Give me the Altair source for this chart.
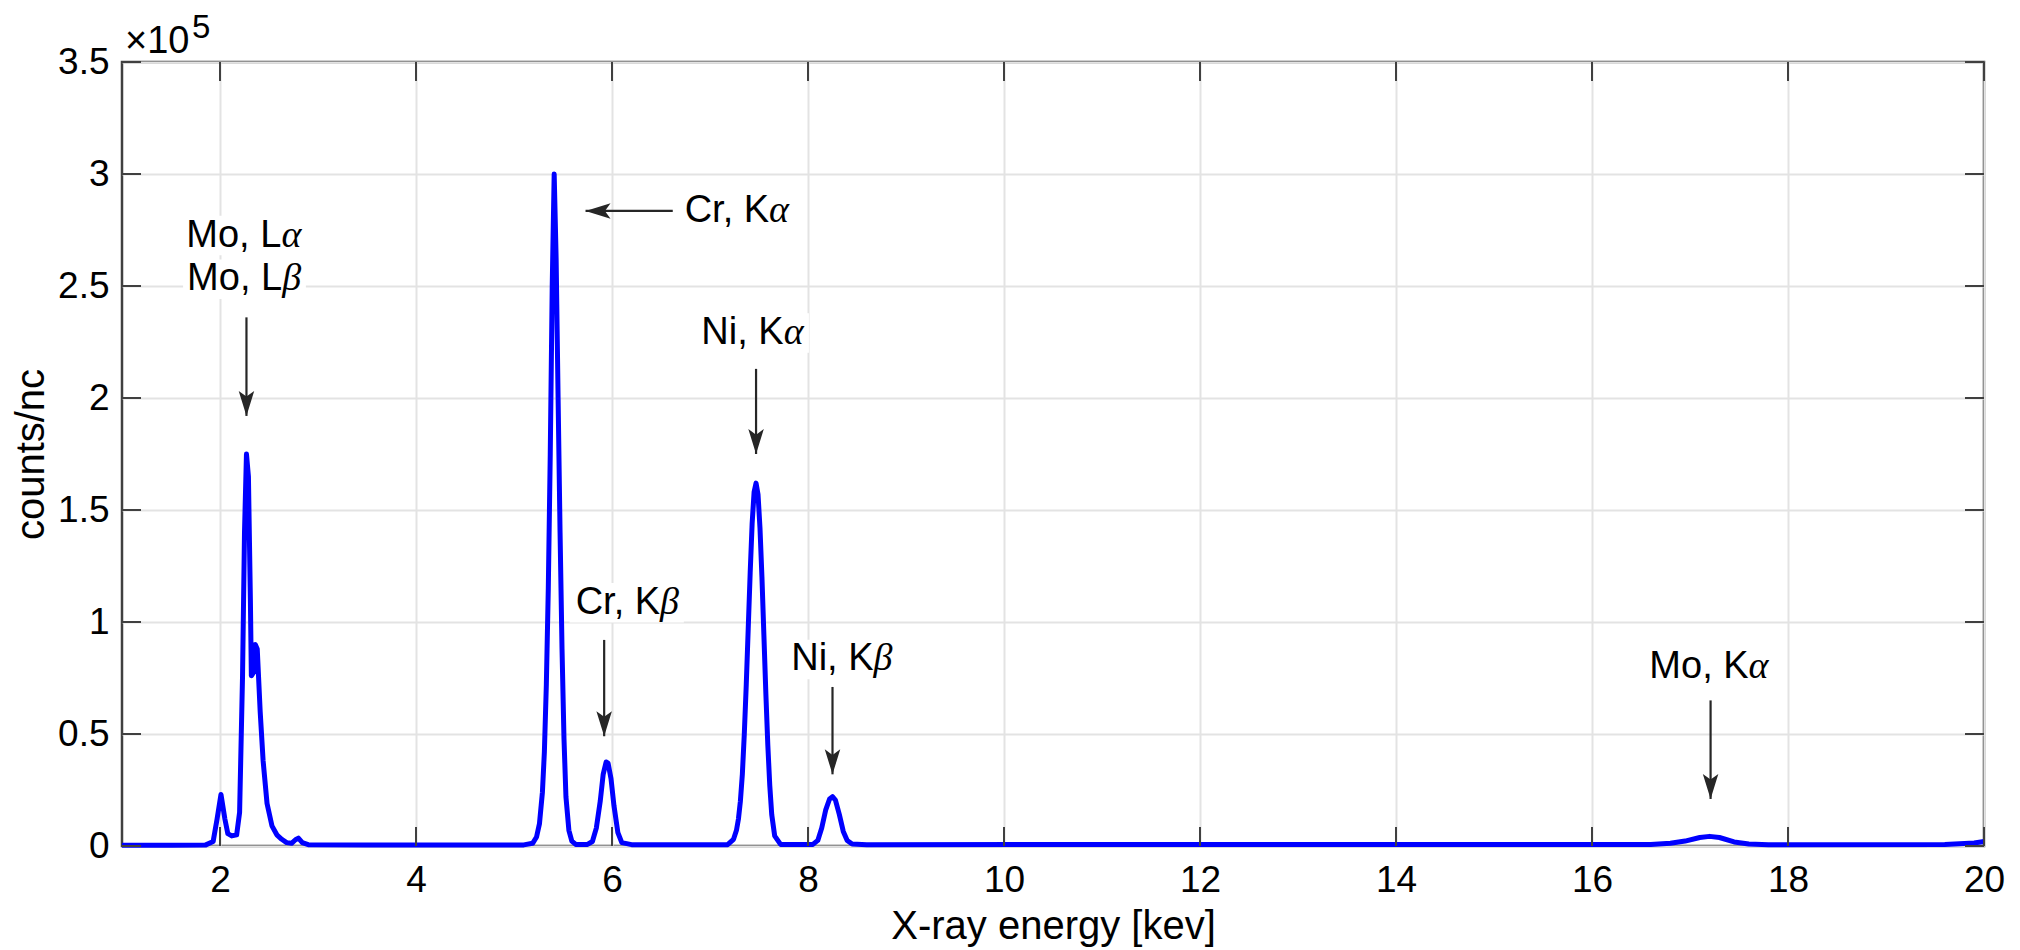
import altair as alt
import pandas as pd

# ---------------- spectrum ----------------
energy_kev = [1.0, 1.5, 1.85, 1.93, 1.97, 2.01, 2.05, 2.08, 2.12, 2.17, 2.20, 2.23, 2.25, 2.27,
              2.29, 2.31, 2.32, 2.35, 2.36, 2.38, 2.41, 2.44, 2.48, 2.53, 2.58, 2.63, 2.68, 2.73,
              2.77, 2.80, 2.84, 2.90, 3.5, 5.10, 5.19, 5.23, 5.26, 5.29, 5.31, 5.33, 5.35, 5.37,
              5.39, 5.41, 5.43, 5.45, 5.47, 5.49, 5.51, 5.53, 5.56, 5.59, 5.63, 5.75, 5.80, 5.84,
              5.88, 5.91, 5.94, 5.96, 5.99, 6.02, 6.06, 6.10, 6.20, 7.18, 7.24, 7.27, 7.29, 7.31,
              7.33, 7.35, 7.37, 7.39, 7.41, 7.43, 7.45, 7.47, 7.49, 7.51, 7.53, 7.55, 7.57, 7.59,
              7.61, 7.63, 7.66, 7.72, 8.05, 8.10, 8.14, 8.18, 8.22, 8.25, 8.28, 8.32, 8.36, 8.40,
              8.45, 8.60, 16.6, 16.8, 16.95, 17.1, 17.2, 17.3, 17.45, 17.6, 17.8, 19.6, 19.9, 20.0]
counts = [300, 300, 400, 2000, 12000, 23000, 12000, 5500, 4500, 5000, 15000, 76000, 140000, 175000,
          165000, 110000, 76000, 78000, 90000, 88000, 60000, 38000, 19000, 9000, 5000, 3000, 1500, 1200,
          2800, 3500, 1500, 600, 400, 500, 1200, 4000, 10000, 24000, 42000, 72000, 115000, 175000,
          250000, 300000, 262000, 200000, 140000, 88000, 48000, 22000, 7000, 2200, 700, 700, 2000, 8000,
          20000, 32000, 37500, 37000, 30000, 18000, 6000, 1500, 600, 600, 3000, 7000, 12000, 20000,
          32000, 50000, 72000, 97000, 122000, 144000, 158000, 162000, 157000, 142000, 120000, 94000, 68000, 45000,
          27000, 14000, 4500, 700, 700, 2500, 8000, 16000, 21000, 22000, 20500, 14000, 6500, 2500,
          900, 600, 700, 1200, 2200, 3800, 4300, 3800, 1800, 900, 600, 700, 1300, 2000]

x_ticks = [2, 4, 6, 8, 10, 12, 14, 16, 18, 20]
y_ticks = [0, 50000, 100000, 150000, 200000, 250000, 300000, 350000]

# ---------------- annotations ----------------
label_prefix = ["Mo, L", "Mo, L", "Cr, K", "Cr, K", "Ni, K", "Ni, K", "Mo, K"]
label_greek = ["\u03b1", "\u03b2", "\u03b1", "\u03b2", "\u03b1", "\u03b2", "\u03b1"]
label_x = [2.25, 2.25, 6.72, 6.15, 7.44, 8.35, 17.2]          # centre (or left edge for Cr Ka)
label_y = [272500, 253000, 283500, 108600, 229000, 83300, 80000]
label_align = ["center", "center", "left", "center", "center", "center", "center"]
prefix_em = [2.501, 2.501, 2.278, 2.278, 2.167, 2.167, 2.612]
greek_em = [0.56, 0.52, 0.56, 0.52, 0.56, 0.52, 0.56]

arrow_x = [2.27, 5.92, 7.47, 8.25, 17.21]
arrow_tail = [236000, 92000, 213000, 71000, 65000]
arrow_tip = [192000, 49000, 175000, 32000, 21000]

harrow_y = [283500]
harrow_tail = [6.62]
harrow_tip = [5.73]

# ---------------- layout ----------------
W, H = 1862, 784
X_MIN, X_MAX = 1, 20
Y_MAX = 350000
PX_PER_KEV = W / (X_MAX - X_MIN)
COUNTS_PER_PX = Y_MAX / H
ANN_FS = 38
FONT = "Liberation Sans, Arial, Helvetica, sans-serif"
INK = "#262626"

spec = pd.DataFrame({"energy": energy_kev, "counts": counts})

# split points between the roman prefix and the italic greek letter, plus text boxes
split_x, box_l, box_r, box_b, box_t = [], [], [], [], []
for cx, cy, al, pe, ge in zip(label_x, label_y, label_align, prefix_em, greek_em):
    wp = pe * ANN_FS / PX_PER_KEV
    wg = ge * ANN_FS / PX_PER_KEV
    left = cx if al == "left" else cx - (wp + wg) / 2
    split_x.append(left + wp)
    pad = 4 / PX_PER_KEV
    box_l.append(left - pad)
    box_r.append(left + wp + wg + pad)
    half_h = 0.52 * ANN_FS * COUNTS_PER_PX
    box_b.append(cy - half_h)
    box_t.append(cy + half_h)
labels = pd.DataFrame({"prefix": label_prefix, "greek": label_greek,
                       "sx": split_x, "y": label_y,
                       "l": box_l, "r": box_r, "b": box_b, "t": box_t})
arrows = pd.DataFrame({"x": arrow_x, "tail": arrow_tail, "tip": arrow_tip})
harrows = pd.DataFrame({"y": harrow_y, "tail": harrow_tail, "tip": harrow_tip})
xt = pd.DataFrame({"x": x_ticks})
yt = pd.DataFrame({"y": y_ticks})

xscale = alt.Scale(domain=[X_MIN, X_MAX], nice=False, zero=False)
yscale = alt.Scale(domain=[0, Y_MAX], nice=False)

xaxis = alt.Axis(values=x_ticks, title="X-ray energy [kev]", labelPadding=16, format="d",
                 titleY=92, titleBaseline="alphabetic", labelFlush=False)
yaxis = alt.Axis(values=y_ticks, title="counts/nc", labelPadding=13,
                 labelExpr="format(datum.value / 100000, '.1~f')",
                 titleX=-79, titleY=H / 2, titleBaseline="alphabetic", titleAngle=-90)

base_line = alt.Chart(spec).mark_line(color="#0000ff", strokeWidth=5, strokeJoin="round").encode(
    x=alt.X("energy:Q", scale=xscale, axis=xaxis),
    y=alt.Y("counts:Q", scale=yscale, axis=yaxis),
)

tick_style = dict(color="#404040", strokeWidth=2)
TL = 19
xt_bottom = alt.Chart(xt).mark_rule(**tick_style).encode(
    x=alt.X("x:Q", scale=xscale), y=alt.value(H), y2=alt.value(H - TL))
xt_top = alt.Chart(xt).mark_rule(**tick_style).encode(
    x=alt.X("x:Q", scale=xscale), y=alt.value(0), y2=alt.value(TL))
yt_left = alt.Chart(yt).mark_rule(**tick_style).encode(
    y=alt.Y("y:Q", scale=yscale), x=alt.value(0), x2=alt.value(TL))
yt_right = alt.Chart(yt).mark_rule(**tick_style).encode(
    y=alt.Y("y:Q", scale=yscale), x=alt.value(W), x2=alt.value(W - TL))

text_bg = alt.Chart(labels).mark_rect(color="#ffffff").encode(
    x=alt.X("l:Q", scale=xscale), x2="r:Q", y=alt.Y("b:Q", scale=yscale), y2="t:Q")
prefix_text = alt.Chart(labels).mark_text(
    align="right", baseline="middle", font=FONT, fontSize=ANN_FS, color="#000000"
).encode(x=alt.X("sx:Q", scale=xscale), y=alt.Y("y:Q", scale=yscale), text="prefix:N")
greek_text = alt.Chart(labels).mark_text(
    align="left", baseline="middle", font="Liberation Serif, Times New Roman, serif",
    fontStyle="italic", fontSize=ANN_FS, color="#000000"
).encode(x=alt.X("sx:Q", scale=xscale), y=alt.Y("y:Q", scale=yscale), text="greek:N")

shafts = alt.Chart(arrows).mark_rule(color=INK, strokeWidth=2.2).encode(
    x=alt.X("x:Q", scale=xscale), y=alt.Y("tail:Q", scale=yscale), y2="tip:Q")
heads = alt.Chart(arrows).mark_point(
    shape="M0,0L-0.62,-2L0,-1.55L0.62,-2Z", size=625, filled=True, opacity=1, color=INK
).encode(x=alt.X("x:Q", scale=xscale), y=alt.Y("tip:Q", scale=yscale))

hshaft = alt.Chart(harrows).mark_rule(color=INK, strokeWidth=2.2).encode(
    x=alt.X("tail:Q", scale=xscale), x2="tip:Q", y=alt.Y("y:Q", scale=yscale))
hhead = alt.Chart(harrows).mark_point(
    shape="M0,0L2,-0.62L1.55,0L2,0.62Z", size=625, filled=True, opacity=1, color=INK
).encode(x=alt.X("tip:Q", scale=xscale), y=alt.Y("y:Q", scale=yscale))

# x10^5 exponent label at the top-left corner
exp_df = pd.DataFrame({"x": [X_MIN], "y": [Y_MAX]})
exp_main = alt.Chart(exp_df).mark_text(
    align="left", baseline="alphabetic", font=FONT, fontSize=38, dx=3, dy=-9, color="#000000"
).encode(x=alt.X("x:Q", scale=xscale), y=alt.Y("y:Q", scale=yscale), text=alt.value("\u00d710"))
exp_sup = alt.Chart(exp_df).mark_text(
    align="left", baseline="alphabetic", font=FONT, fontSize=33, dx=70, dy=-24, color="#000000"
).encode(x=alt.X("x:Q", scale=xscale), y=alt.Y("y:Q", scale=yscale), text=alt.value("5"))

chart = alt.layer(
    base_line, xt_bottom, xt_top, yt_left, yt_right, text_bg,
    shafts, heads, hshaft, hhead, prefix_text, greek_text, exp_main, exp_sup,
).properties(
    width=W, height=H, autosize="none",
    padding={"left": 122, "top": 62, "right": 36, "bottom": 104},
    background="#ffffff",
).configure_view(
    stroke="#404040", strokeWidth=2.5
).configure_axis(
    labelFont=FONT, titleFont=FONT, labelFontSize=37, titleFontSize=40,
    labelColor="#000000", titleColor="#000000", titleFontWeight="normal",
    grid=True, gridColor="#e3e3e3", gridWidth=2, domain=False, ticks=False,
)

chart.save("out.html", embed_options={"renderer": "svg", "actions": False})
